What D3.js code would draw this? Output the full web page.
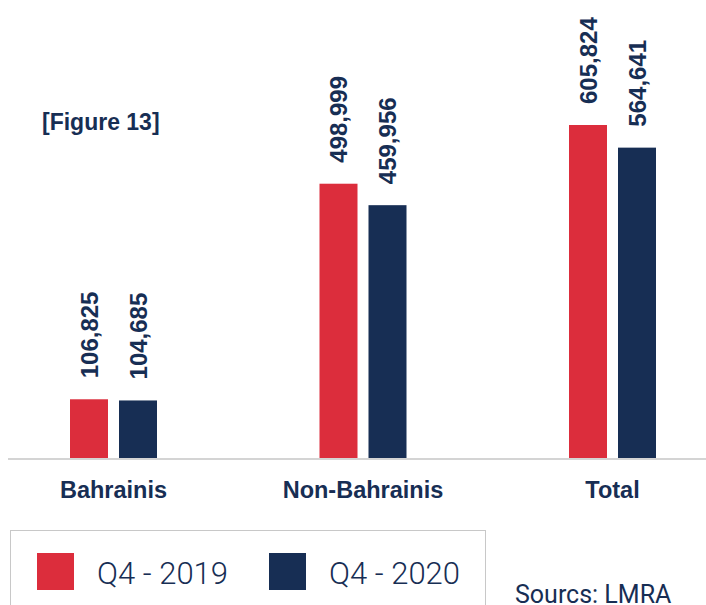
<!DOCTYPE html>
<html>
<head>
<meta charset="utf-8">
<script src="https://cdn.jsdelivr.net/npm/d3@7"></script>
<style>
  body { margin: 0; background: #fff; }
  svg { display: block; }
</style>
</head>
<body>
<svg id="chart" width="706" height="605"></svg>
<script>
var categories = ["Bahrainis", "Non-Bahrainis", "Total"];
var series = ["Q4 - 2019", "Q4 - 2020"];
var q4_2019 = [106825, 498999, 605824];
var q4_2020 = [104685, 459956, 564641];
var colors = ["#dc2d3c", "#172e54"];

var navy = "#172e54";
var svg = d3.select("#chart");

var baseY = 458;

var y = d3.scaleLinear()
    .domain([0, d3.max(q4_2019)])
    .range([baseY, 125]);

var x0 = d3.scalePoint()
    .domain(categories)
    .range([113.5, 612.5]);

var x1 = d3.scaleBand()
    .domain(series)
    .range([-43.5, 43.5])
    .paddingInner(11 / 49)
    .paddingOuter(0);

var values = [q4_2019, q4_2020];

// bars + rotated value labels
series.forEach(function(s, si) {
  var data = categories.map(function(c, i) { return {cat: c, v: values[si][i]}; });

  svg.append("g").selectAll("rect")
    .data(data)
    .enter().append("rect")
      .attr("x", function(d) { return x0(d.cat) + x1(s); })
      .attr("y", function(d) { return y(d.v); })
      .attr("width", x1.bandwidth())
      .attr("height", function(d) { return baseY - y(d.v); })
      .attr("fill", colors[si]);

  svg.append("g").selectAll("text")
    .data(data)
    .enter().append("text")
      .attr("transform", function(d) {
        var cx = x0(d.cat) + x1(s) + x1.bandwidth() / 2;
        return "translate(" + cx + "," + (y(d.v) - 21) + ")rotate(-90)";
      })
      .attr("dy", "0.36em")
      .attr("fill", navy)
      .style("font-family", "'Liberation Sans', Arial, sans-serif")
      .style("font-weight", "bold")
      .style("font-size", "24px")
      .text(function(d) { return d3.format(",")(d.v); });
});

// baseline
svg.append("line")
    .attr("x1", 8).attr("x2", 706)
    .attr("y1", baseY + 1).attr("y2", baseY + 1)
    .attr("stroke", "#d4d4d4")
    .attr("stroke-width", 2);

// category labels
svg.append("g").selectAll("text")
  .data(categories)
  .enter().append("text")
    .attr("x", function(d) { return x0(d); })
    .attr("y", 498)
    .attr("text-anchor", "middle")
    .attr("fill", navy)
    .style("font-family", "'Liberation Sans', Arial, sans-serif")
    .style("font-weight", "bold")
    .style("font-size", "23.5px")
    .text(function(d) { return d; });

// figure title
svg.append("text")
    .attr("x", 42)
    .attr("y", 130)
    .attr("fill", navy)
    .style("font-family", "'Liberation Sans', Arial, sans-serif")
    .style("font-weight", "bold")
    .style("font-size", "23px")
    .text("[Figure 13]");

// legend
svg.append("rect")
    .attr("x", 10.5).attr("y", 530.5)
    .attr("width", 475).attr("height", 100)
    .attr("fill", "none")
    .attr("stroke", "#c8c8c8")
    .attr("stroke-width", 1);

var legendX = [37, 269];
var lg = svg.append("g").selectAll("g")
  .data(series)
  .enter().append("g")
    .attr("transform", function(d, i) { return "translate(" + legendX[i] + ",553)"; });

lg.append("rect")
    .attr("width", 37).attr("height", 37)
    .attr("fill", function(d, i) { return colors[i]; });

lg.append("text")
    .attr("x", 60)
    .attr("y", 31)
    .attr("fill", navy)
    .style("font-family", "Roboto, sans-serif")
    .style("font-weight", "300")
    .style("font-size", "31px")
    .text(function(d) { return d; });

// source
svg.append("text")
    .attr("x", 515)
    .attr("y", 603)
    .attr("fill", navy)
    .style("font-family", "Roboto, sans-serif")
    .style("font-weight", "400")
    .style("font-size", "25px")
    .text("Sourcs: LMRA");
</script>
</body>
</html>
